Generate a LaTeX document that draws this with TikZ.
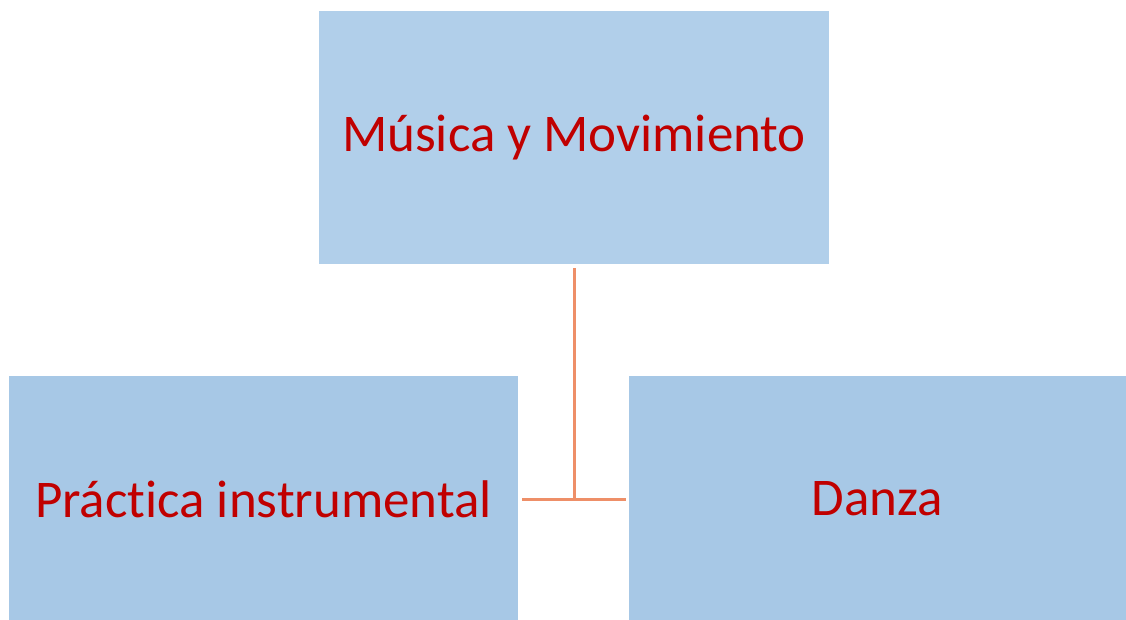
\documentclass[tikz,border=0pt]{standalone}
\usepackage{fontspec}
\setmainfont{Carlito}[Ligatures=NoCommon]
\usetikzlibrary{positioning}
\definecolor{boxtop}{HTML}{B1CFEA}
\definecolor{boxlow}{HTML}{A7C8E6}
\definecolor{textred}{HTML}{C00000}
\definecolor{linkorange}{HTML}{EE8F68}
\begin{document}
\begin{tikzpicture}
  [x=1pt, y=-1pt,
   box/.style={rectangle, inner sep=0pt, outer sep=0pt,
     text=textred, font=\fontsize{53}{58}\selectfont},
   link/.style={draw=linkorange, line width=3pt}]
  \useasboundingbox (0,0) rectangle (1126,620);
  \node [box, fill=boxtop, minimum width=510pt, minimum height=253pt]
    (musica) at (574,137.5) {Música y Movimiento};
  \node [box, fill=boxlow, minimum width=509pt, minimum height=246pt]
    (practica) at (263.5,499) {Práctica instrumental};
  \node [box, fill=boxlow, minimum width=497pt, minimum height=246pt]
    (danza) at (877.5,499) {Danza};

  \draw [link, shorten <=4pt] (musica.south) -- (musica.south |- practica.east);
  \draw [link, shorten <=4pt, shorten >=3pt] (practica.east) -- (danza.west);
\end{tikzpicture}
\end{document}
